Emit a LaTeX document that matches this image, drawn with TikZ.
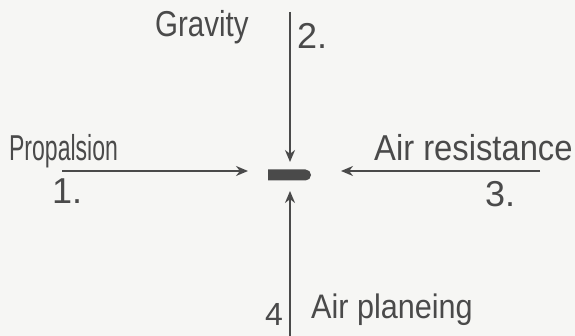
\documentclass[tikz,border=0pt]{standalone}
\usepackage{fontspec}
\setmainfont{Liberation Sans}
\usetikzlibrary{arrows.meta,shapes.misc}
\definecolor{ink}{HTML}{4A4A4A}
\definecolor{paper}{HTML}{F6F6F4}
\tikzset{
  force/.style={draw=ink,line width=2pt,-{Stealth[length=12pt,width=10pt]}},
  lbl/.style={text=ink,font=\fontsize{36}{36}\selectfont,inner sep=0pt,anchor=base west},
}
\begin{document}
\begin{tikzpicture}[x=1pt,y=-1pt]
\fill[paper] (0,0) rectangle (575,336);
\useasboundingbox (0,0) rectangle (575,336);
\node[fill=ink,rounded rectangle,rounded rectangle left arc=none,minimum width=43pt,minimum height=11pt,inner sep=0pt] (b) at (289.5,175) {};
\coordinate (ts) at (290,12);
\coordinate (te) at (290,162);
\coordinate (ls) at (62,171);
\coordinate (le) at (248,171);
\coordinate (rs) at (540,171);
\coordinate (re) at (341,171);
\coordinate (bs) at (290,336);
\coordinate (be) at (290,191);
\draw[force] (ts) -- (te);
\draw[force] (ls) -- (le);
\draw[force] (rs) -- (re);
\draw[force] (bs) -- (be);
\node[lbl,xscale=0.82] (grav) at (155,37) {Gravity};
\node[lbl] (n2) at (297,49) {2.};
\node[lbl,xscale=0.64] (prop) at (9,161) {Propalsion};
\node[lbl] (n1) at (52,204) {1.};
\node[lbl,xscale=0.91] (air) at (374,161) {Air resistance};
\node[lbl] (n3) at (485,207) {3.};
\node[lbl,font=\fontsize{32}{32}\selectfont] (n4) at (265,326) {4};
\node[lbl,xscale=0.9,font=\fontsize{34}{34}\selectfont] (plan) at (311,319) {Air planeing};
\end{tikzpicture}
\end{document}
